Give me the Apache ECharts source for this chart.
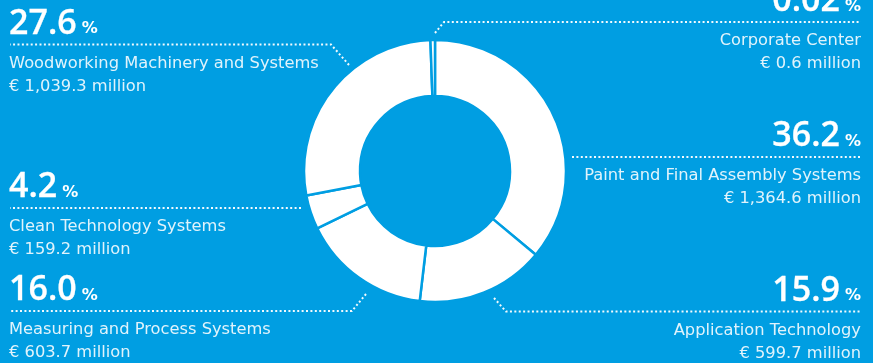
<!DOCTYPE html>
<html><head><meta charset="utf-8">
<script src="https://cdn.jsdelivr.net/npm/echarts@6/dist/echarts.min.js"></script>
<style>html,body{margin:0;padding:0;background:#009ee2;overflow:hidden}#c{width:873px;height:363px}</style>
</head><body><div id="c"></div>
<script>
// ---- data ----
const segments = ['Paint and Final Assembly Systems', 'Application Technology', 'Measuring and Process Systems', 'Clean Technology Systems', 'Woodworking Machinery and Systems', 'Corporate Center'];
const salesMillion = [1364.6, 599.7, 603.7, 159.2, 1039.3, 0.6];
const sharePercent = ['36.2', '15.9', '16.0', '4.2', '27.6', '0.02'];

// ---- layout / style ----
const BG = '#009ee2';
const NUM_FONT = '"Open Sans", "Noto Sans", sans-serif';
const TXT_FONT = '"DejaVu Sans", "Open Sans", sans-serif';
const LEFT_X = 9, RIGHT_X = 861;
// per-label placement: side, top of text block, leader start and bend
const labelPlace = [
  { side: 'right', top: 107.5, start: [572, 157], bend: [572, 157] },
  { side: 'right', top: 262,   start: [494, 298], bend: [506, 311.5] },
  { side: 'left',  top: 261.5, start: [366, 294], bend: [352, 311] },
  { side: 'left',  top: 158.5, start: [301, 208], bend: [301, 208] },
  { side: 'left',  top: -5,    start: [349, 65],  bend: [331, 44.5] },
  { side: 'right', top: -27.5, start: [435, 33],  bend: [444, 22] }
];

function fmtMoney(v) {
  return v.toLocaleString('en-US', { minimumFractionDigits: 1, maximumFractionDigits: 1 });
}

const chart = echarts.init(document.getElementById('c'), null, { renderer: 'canvas' });
chart.setOption({
  backgroundColor: BG,
  animation: false,
  series: [{
    type: 'pie',
    center: [435, 171],
    radius: [75, 131],
    startAngle: 90,
    clockwise: true,
    minAngle: 2,
    avoidLabelOverlap: false,
    emphasis: { disabled: true },
    itemStyle: { color: '#ffffff', borderColor: BG, borderWidth: 2.5 },
    data: segments.map((n, i) => ({ name: n, value: salesMillion[i] })),
    label: {
      show: true,
      position: 'outside',
      fontFamily: TXT_FONT,
      formatter: p => '{pct|' + sharePercent[p.dataIndex] + '}{pu|%}\n{name|' + p.name + '}\n{val|€ ' + fmtMoney(p.value) + ' million}',
      rich: {
        pct: { fontFamily: NUM_FONT, fontSize: 34, fontWeight: 600, color: '#ffffff', lineHeight: 56, textBorderColor: '#ffffff', textBorderWidth: 0.3 },
        pu: { fontFamily: TXT_FONT, fontSize: 16, fontWeight: 'bold', color: '#ffffff', padding: [10, 0, 0, 5] },
        name: { fontFamily: TXT_FONT, fontSize: 16.3, color: 'rgba(255,255,255,0.88)', lineHeight: 23 },
        val: { fontFamily: TXT_FONT, fontSize: 16.3, color: 'rgba(255,255,255,0.88)', lineHeight: 23 }
      }
    },
    labelLine: {
      show: true,
      smooth: false,
      lineStyle: { color: 'rgba(255,255,255,0.95)', width: 2, type: [2, 2.4] }
    },
    labelLayout: function (params) {
      const L = labelPlace[params.dataIndex];
      const x = L.side === 'left' ? LEFT_X : RIGHT_X;
      const top = L.top + 1;
      const lineY = top + 48.5;
      const endX = L.side === 'left' ? LEFT_X + 1 : RIGHT_X;
      return {
        x: x,
        y: top,
        align: L.side,
        verticalAlign: 'top',
        labelLinePoints: [L.start, [L.bend[0], lineY], [endX, lineY]]
      };
    }
  }]
});
</script>
</body></html>
